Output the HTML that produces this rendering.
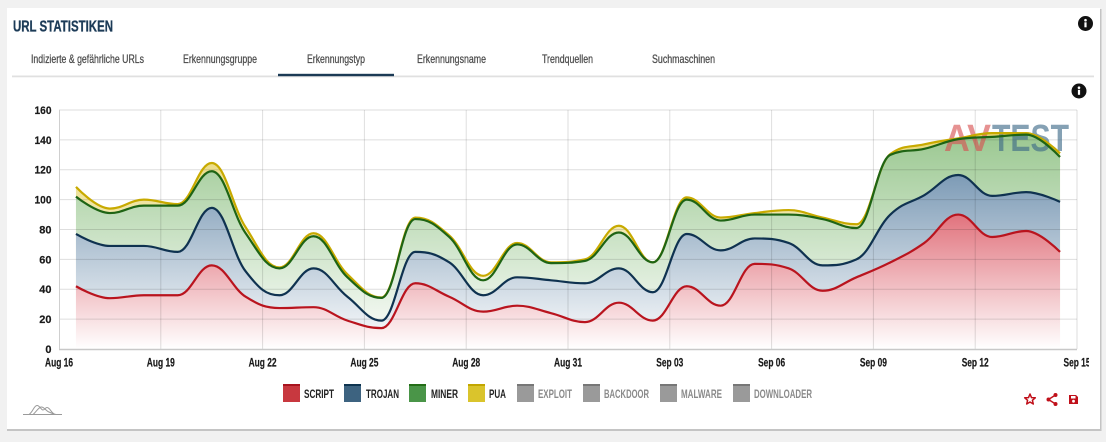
<!DOCTYPE html>
<html><head><meta charset="utf-8">
<style>
html,body{margin:0;padding:0;background:#f1f1f1;}
body{width:1106px;height:442px;overflow:hidden;font-family:"Liberation Sans",sans-serif;}
svg{display:block}
</style></head><body>
<svg id="s" width="1106" height="442" viewBox="0 0 1106 442" xmlns="http://www.w3.org/2000/svg" font-family="Liberation Sans, sans-serif">
<defs>
 <linearGradient id="gY" x1="0" y1="0" x2="0" y2="1"><stop offset="0" stop-color="rgb(232,216,118)"/><stop offset="1" stop-color="#fff"/></linearGradient>
 <linearGradient id="gG" x1="0" y1="0" x2="0" y2="1"><stop offset="0" stop-color="rgb(155,200,145)"/><stop offset="1" stop-color="#fff"/></linearGradient>
 <linearGradient id="gB" x1="0" y1="0" x2="0" y2="1"><stop offset="0" stop-color="rgb(125,155,182)"/><stop offset="1" stop-color="#fff"/></linearGradient>
 <linearGradient id="gR" x1="0" y1="0" x2="0" y2="1"><stop offset="0" stop-color="rgb(225,115,125)"/><stop offset="1" stop-color="#fff"/></linearGradient>
 <clipPath id="xc"><rect x="0" y="0" width="1089" height="442"/></clipPath>
</defs>
<rect x="0" y="0" width="1106" height="442" fill="#f1f1f1"/>
<rect x="7" y="9" width="1094.5" height="422" fill="#c4c4c4"/>
<rect x="7" y="8" width="1093" height="421" fill="#fff"/>

<text x="13" y="31.5" font-size="16" font-weight="bold" fill="#1c3b57" stroke="#1c3b57" stroke-width="0.3" textLength="100" lengthAdjust="spacingAndGlyphs">URL STATISTIKEN</text>
<circle cx="1085.5" cy="23.5" r="7.5" fill="#111"/>
<circle cx="1085.5" cy="20.2" r="1.3" fill="#fff"/>
<rect x="1084.4" y="22.3" width="2.2" height="5" fill="#fff"/>

<g font-size="12" fill="#4a4a4a" stroke="#4a4a4a" stroke-width="0.25">
<text x="31" y="63" textLength="113" lengthAdjust="spacingAndGlyphs">Indizierte &amp; gefährliche URLs</text>
<text x="183" y="63" textLength="74" lengthAdjust="spacingAndGlyphs">Erkennungsgruppe</text>
<text x="307" y="63" textLength="58" lengthAdjust="spacingAndGlyphs">Erkennungstyp</text>
<text x="417" y="63" textLength="69" lengthAdjust="spacingAndGlyphs">Erkennungsname</text>
<text x="542" y="63" textLength="51" lengthAdjust="spacingAndGlyphs">Trendquellen</text>
<text x="652" y="63" textLength="63" lengthAdjust="spacingAndGlyphs">Suchmaschinen</text>
</g>
<rect x="12" y="75.5" width="1082" height="1.8" fill="#e0e0e0"/>
<rect x="278" y="73.8" width="116" height="2.4" fill="#1b3a55"/>

<circle cx="1079" cy="91" r="7.5" fill="#111"/>
<circle cx="1079" cy="87.7" r="1.3" fill="#fff"/>
<rect x="1077.9" y="89.8" width="2.2" height="5" fill="#fff"/>

<!-- areas -->
<path id="aY" fill="url(#gY)"/>
<path id="aG" fill="url(#gG)"/>
<path id="aB" fill="url(#gB)"/>
<path id="aR" fill="url(#gR)"/>

<!-- grid -->
<g id="grid" stroke="rgba(0,0,0,0.13)" stroke-width="1" fill="none"></g>
<line x1="59" y1="349.5" x2="1077" y2="349.5" stroke="#c8c8c8" stroke-width="1.6"/>
<line x1="59.5" y1="110" x2="59.5" y2="349" stroke="#cfcfcf" stroke-width="1"/>

<!-- logo -->
<g font-weight="bold" font-size="38">
<text x="944" y="151" fill="rgb(215,80,80)" opacity="0.62" textLength="47" lengthAdjust="spacingAndGlyphs">AV</text>
<text x="992" y="151" fill="rgb(60,105,135)" opacity="0.62" textLength="77" lengthAdjust="spacingAndGlyphs">TEST</text>
</g>

<!-- lines -->
<path id="lY" fill="none" stroke="rgb(200,170,0)" stroke-width="2.2"/>
<path id="lG" fill="none" stroke="rgb(30,100,20)" stroke-width="2.2"/>
<path id="lB" fill="none" stroke="rgb(15,50,80)" stroke-width="2.2"/>
<path id="lR" fill="none" stroke="rgb(185,20,30)" stroke-width="2.2"/>

<!-- y labels -->
<g font-size="11" font-weight="bold" fill="#1a1a1a" stroke="#1a1a1a" stroke-width="0.2" text-anchor="end">
<text x="51.5" y="353">0</text>
<text x="51.5" y="323">20</text>
<text x="51.5" y="293.2">40</text>
<text x="51.5" y="263.3">60</text>
<text x="51.5" y="233.4">80</text>
<text x="51.5" y="203.5" textLength="17" lengthAdjust="spacingAndGlyphs">100</text>
<text x="51.5" y="173.7" textLength="17" lengthAdjust="spacingAndGlyphs">120</text>
<text x="51.5" y="143.8" textLength="17" lengthAdjust="spacingAndGlyphs">140</text>
<text x="51.5" y="114" textLength="17" lengthAdjust="spacingAndGlyphs">160</text>
</g>
<!-- x labels -->
<g font-size="11.5" font-weight="bold" fill="#1a1a1a" stroke="#1a1a1a" stroke-width="0.2" text-anchor="middle" clip-path="url(#xc)">
<text x="59" y="366.5" textLength="28" lengthAdjust="spacingAndGlyphs">Aug 16</text>
<text x="160.8" y="366.5" textLength="28" lengthAdjust="spacingAndGlyphs">Aug 19</text>
<text x="262.6" y="366.5" textLength="28" lengthAdjust="spacingAndGlyphs">Aug 22</text>
<text x="364.4" y="366.5" textLength="28" lengthAdjust="spacingAndGlyphs">Aug 25</text>
<text x="466.2" y="366.5" textLength="28" lengthAdjust="spacingAndGlyphs">Aug 28</text>
<text x="568" y="366.5" textLength="28" lengthAdjust="spacingAndGlyphs">Aug 31</text>
<text x="669.8" y="366.5" textLength="27" lengthAdjust="spacingAndGlyphs">Sep 03</text>
<text x="771.6" y="366.5" textLength="27" lengthAdjust="spacingAndGlyphs">Sep 06</text>
<text x="873.4" y="366.5" textLength="27" lengthAdjust="spacingAndGlyphs">Sep 09</text>
<text x="975.2" y="366.5" textLength="27" lengthAdjust="spacingAndGlyphs">Sep 12</text>
<text x="1077" y="366.5" textLength="27" lengthAdjust="spacingAndGlyphs">Sep 15</text>
</g>

<!-- legend -->
<g>
<rect x="283" y="384" width="17" height="18" fill="#c8383f"/><rect x="283" y="384" width="17" height="2" fill="#a8141e"/>
<rect x="344" y="384" width="17" height="18" fill="#3d6380"/><rect x="344" y="384" width="17" height="2" fill="#0e3450"/>
<rect x="409" y="384" width="17" height="18" fill="#4a9548"/><rect x="409" y="384" width="17" height="2" fill="#236d17"/>
<rect x="468" y="384" width="17" height="18" fill="#dac42c"/><rect x="468" y="384" width="17" height="2" fill="#c2a600"/>
<rect x="517" y="384" width="17" height="18" fill="#9a9a9a"/><rect x="517" y="384" width="17" height="2" fill="#777"/>
<rect x="583" y="384" width="17" height="18" fill="#9a9a9a"/><rect x="583" y="384" width="17" height="2" fill="#777"/>
<rect x="660" y="384" width="17" height="18" fill="#9a9a9a"/><rect x="660" y="384" width="17" height="2" fill="#777"/>
<rect x="733" y="384" width="17" height="18" fill="#9a9a9a"/><rect x="733" y="384" width="17" height="2" fill="#777"/>
</g>
<g font-size="11.5" font-weight="bold">
<text x="304" y="398" fill="#222" textLength="30" lengthAdjust="spacingAndGlyphs">SCRIPT</text>
<text x="366" y="398" fill="#222" textLength="33" lengthAdjust="spacingAndGlyphs">TROJAN</text>
<text x="431" y="398" fill="#222" textLength="27" lengthAdjust="spacingAndGlyphs">MINER</text>
<text x="489" y="398" fill="#222" textLength="17" lengthAdjust="spacingAndGlyphs">PUA</text>
<text x="538" y="398" fill="#8a8a8a" textLength="34" lengthAdjust="spacingAndGlyphs">EXPLOIT</text>
<text x="604" y="398" fill="#8a8a8a" textLength="45" lengthAdjust="spacingAndGlyphs">BACKDOOR</text>
<text x="681" y="398" fill="#8a8a8a" textLength="41" lengthAdjust="spacingAndGlyphs">MALWARE</text>
<text x="754" y="398" fill="#8a8a8a" textLength="58" lengthAdjust="spacingAndGlyphs">DOWNLOADER</text>
</g>

<!-- bottom-left icon -->
<g fill="none" stroke="#9a9a9a" stroke-width="1">
<path d="M23,414.5 H62"/>
<path d="M29,414.5 C33,412 34,405.5 37,405.5 C40,405.5 41,410 43,410 C45,410 45,407.5 47,407.5 C50,407.5 51,413 55,414.5"/>
<path d="M33,414.5 C36,412 38,408 41,407 C44,406.5 46,411 49,412 C51,413 53,414 56,414.5"/>
</g>

<!-- bottom-right icons -->
<path d="M1030,394 L1031.5,397.6 L1035.3,397.8 L1032.4,400.3 L1033.3,404 L1030,402 L1026.7,404 L1027.6,400.3 L1024.7,397.8 L1028.5,397.6 Z" fill="none" stroke="#c0101a" stroke-width="1.5" stroke-linejoin="round"/>
<g fill="#c0101a" stroke="#c0101a" stroke-width="1.4">
<line x1="1055.5" y1="395" x2="1048.5" y2="399.5"/>
<line x1="1055.5" y1="404" x2="1048.5" y2="399.5"/>
<circle cx="1055.5" cy="395" r="2" stroke="none"/>
<circle cx="1048.5" cy="399.5" r="2" stroke="none"/>
<circle cx="1055.5" cy="404" r="2" stroke="none"/>
</g>
<path d="M1069,395 H1076 L1078,397 V404 H1069 Z" fill="#c0101a"/>
<rect x="1071" y="396" width="4.5" height="2.5" fill="#fff"/>
<circle cx="1073.5" cy="401.2" r="1.4" fill="#fff"/>
</svg>
<script>
(function(){
var red=[42,34,36,36,56,35,27.4,28,19,14,44,35,25,29,24,18,31,19,42,29,57,54,39,48,58,71,90,75,79,65];
var tro=[77,69,69,65,94.5,52,36,54,35,19,65,58,36,48,46,44,54,38,77,66,74,71,56,60,90,103,116.5,102.5,105,98.5];
var min=[102,91,96,96,119,77.5,54,75.5,48,34.2,87,75,46,70,57.5,59,78,58,100,86,90,90,87,81,130,134,140.5,142,143.5,128.5];
var pua=[108.5,94,100,97,124.5,81.5,54.6,77.5,50,34.5,88,76,49,71,58,60,82.5,58,101.5,88,91,93,88,83.5,130.5,137,141,144.5,144.5,131];
function X(i){return 59+(i+0.5)*33.9333;}
function Y(v){return 349-v*1.49375;}
function spline(vals){
 var p=vals.map(function(v,i){return {x:X(i),y:Y(v)};});
 var sm=1.5,den=2.5;
 for(var i=1;i<p.length-1;i++){
  var c=p[i],l=p[i-1],n=p[i+1];
  var lcx=(sm*c.x+l.x)/den,lcy=(sm*c.y+l.y)/den,rcx=(sm*c.x+n.x)/den,rcy=(sm*c.y+n.y)/den;
  var corr=((rcy-lcy)*(rcx-c.x))/(rcx-lcx)+c.y-rcy;
  lcy+=corr;rcy+=corr;
  if(lcy>l.y&&lcy>c.y){lcy=Math.max(l.y,c.y);rcy=2*c.y-lcy;}
  else if(lcy<l.y&&lcy<c.y){lcy=Math.min(l.y,c.y);rcy=2*c.y-lcy;}
  if(rcy>n.y&&rcy>c.y){rcy=Math.max(n.y,c.y);lcy=2*c.y-rcy;}
  else if(rcy<n.y&&rcy<c.y){rcy=Math.min(n.y,c.y);lcy=2*c.y-rcy;}
  c.lcx=lcx;c.lcy=lcy;c.rcx=rcx;c.rcy=rcy;
 }
 var f=function(v){return v.toFixed(2);};
 var d='M'+f(p[0].x)+','+f(p[0].y);
 for(var j=1;j<p.length;j++){
  var a=p[j-1],b=p[j];
  var c1x=a.rcx!==undefined?a.rcx:a.x,c1y=a.rcy!==undefined?a.rcy:a.y;
  var c2x=b.lcx!==undefined?b.lcx:b.x,c2y=b.lcy!==undefined?b.lcy:b.y;
  d+=' C'+f(c1x)+','+f(c1y)+' '+f(c2x)+','+f(c2y)+' '+f(b.x)+','+f(b.y);
 }
 return d;
}
var close=' L'+X(29).toFixed(2)+',349 L'+X(0).toFixed(2)+',349 Z';
var sets=[['Y',pua],['G',min],['B',tro],['R',red]];
sets.forEach(function(s){
 var d=spline(s[1]);
 document.getElementById('a'+s[0]).setAttribute('d',d+close);
 document.getElementById('l'+s[0]).setAttribute('d',d);
});
var g=document.getElementById('grid'),ns='http://www.w3.org/2000/svg';
for(var k=1;k<=8;k++){
 var y=349-k*29.875;
 var ln=document.createElementNS(ns,'line');
 ln.setAttribute('x1',59);ln.setAttribute('x2',1077);ln.setAttribute('y1',y);ln.setAttribute('y2',y);
 g.appendChild(ln);
}
for(var m=1;m<=10;m++){
 var x=59+m*101.8;
 var lv=document.createElementNS(ns,'line');
 lv.setAttribute('x1',x);lv.setAttribute('x2',x);lv.setAttribute('y1',110);lv.setAttribute('y2',349);
 g.appendChild(lv);
}
})();
</script>
</body></html>
